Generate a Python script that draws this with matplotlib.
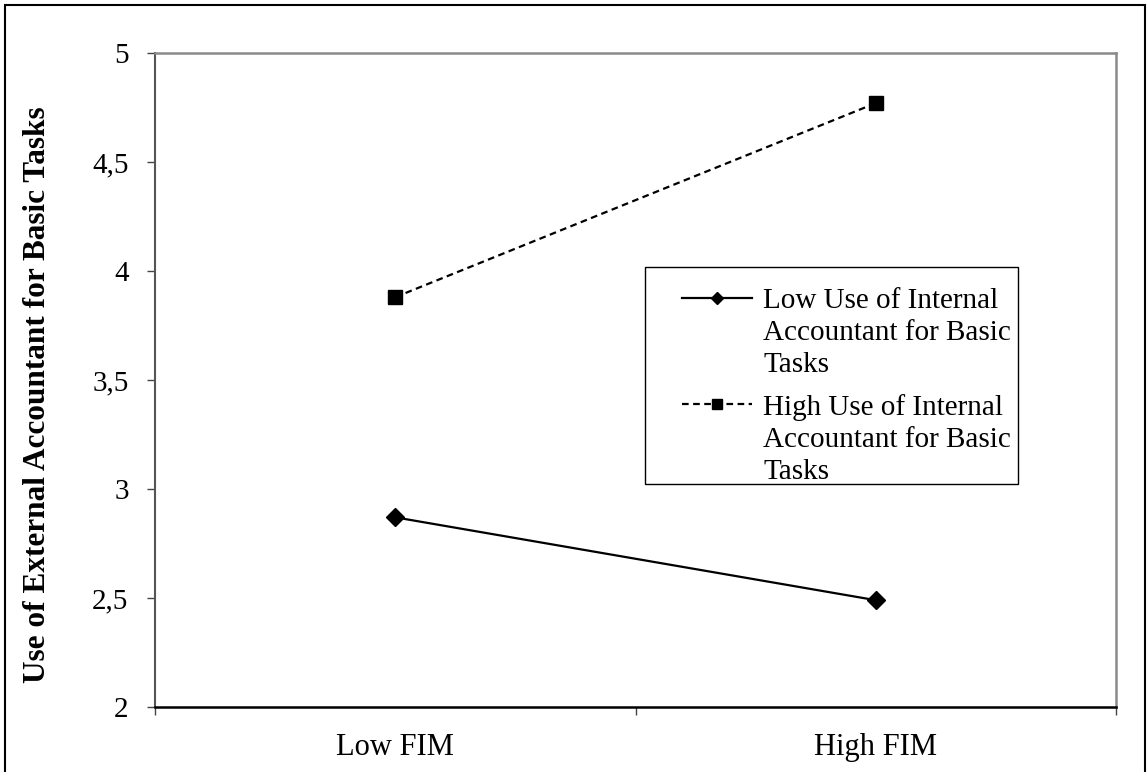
import numpy as np
import matplotlib
matplotlib.use('Agg')
import matplotlib.pyplot as plt
import matplotlib.patches as mpatches

plt.rcParams['font.family'] = ['Liberation Serif', 'DejaVu Serif']

categories = ['Low FIM', 'High FIM']
low_internal = [2.87, 2.49]
high_internal = [3.88, 4.77]
series_labels = ['Low Use of Internal\nAccountant for Basic\nTasks',
                 'High Use of Internal\nAccountant for Basic\nTasks']
yticks = [2, 2.5, 3, 3.5, 4, 4.5, 5]
ytick_labels = ['2', '2,5', '3', '3,5', '4', '4,5', '5']

W, H = 1147, 772
fig = plt.figure(figsize=(W / 100, H / 100), dpi=100)
# plot area in pixels: x 155..1116, y 53..707
ax = fig.add_axes([155 / W, 1 - 707 / H, (1116 - 155) / W, (707 - 53) / H])

x = np.arange(len(categories))
ax.plot(x, low_internal, color='black', lw=1.6, marker='D', ms=9,
        label=series_labels[0])
ax.plot(x, high_internal, color='black', lw=1.6, ls=(0, (3, 2)), marker='s', ms=10,
        label=series_labels[1])

ax.set_xlim(-0.5, 1.5)
ax.set_ylim(2, 5)
ax.set_yticks(yticks)
ax.set_yticklabels(ytick_labels)
ax.set_xticks(x)
ax.set_xticklabels(categories)
ax.set_xticks([-0.5, 0.5, 1.5], minor=True)
ax.tick_params(axis='x', which='major', length=0, pad=19, labelsize=22)
ax.tick_params(axis='x', which='minor', length=6, width=1, direction='out', color='#444444')
ax.tick_params(axis='y', length=6, width=1, direction='out', pad=13, labelsize=21, color='#444444')

for side in ['top', 'right']:
    ax.spines[side].set_color('#8a8a8a')
    ax.spines[side].set_linewidth(1.8)
ax.spines['left'].set_color('#555555')
ax.spines['left'].set_linewidth(1.5)
ax.spines['bottom'].set_color('black')
ax.spines['bottom'].set_linewidth(1.8)

ax.set_ylabel('Use of External Accountant for Basic Tasks', fontsize=22.5,
              fontweight='bold')
ax.yaxis.set_label_coords(-(155 - 52) / (1116 - 155), (707 - 395) / (707 - 53))

# legend frame drawn separately: pixels x 645..1018, y 267..484
ax.add_patch(mpatches.Rectangle((645 / W, 1 - 484 / H), (1018 - 645) / W, (484 - 267) / H,
                                transform=fig.transFigure, fill=True, facecolor='white',
                                edgecolor='black', lw=1.0, zorder=4, clip_on=False))
leg = ax.legend(loc='upper left', bbox_to_anchor=(682 / W, 1 - 288 / H),
                bbox_transform=fig.transFigure, fontsize=21, frameon=False,
                handlelength=2.4, handletextpad=0.38, markerscale=0.7,
                borderpad=0, labelspacing=0.55, borderaxespad=0)
leg.set_zorder(6)
for t in leg.get_texts():
    t.set_linespacing(1.3)
# put each handle next to the first line of its label
for col in leg._legend_handle_box.get_children():
    for row in col.get_children():
        row.align = 'top'

# outer frame around the whole picture
fig.patches.append(mpatches.Rectangle((5 / W, -0.05), (1140 / W), 1 - 5 / H + 0.05,
                                      transform=fig.transFigure, fill=False,
                                      edgecolor='black', lw=1.5))

fig.savefig('out.png', dpi=100)
